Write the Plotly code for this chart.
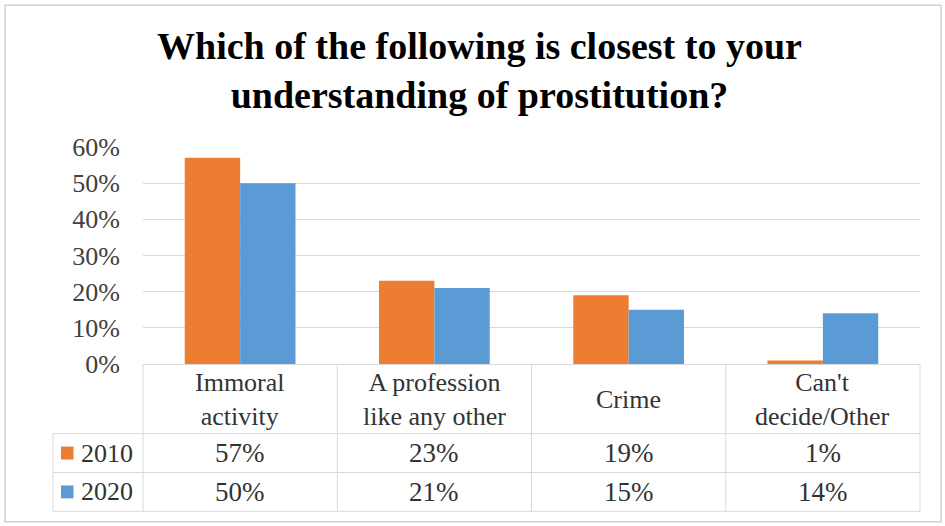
import plotly.graph_objects as go

# Survey answers, share of respondents
categories = ["Immoral activity", "A profession like any other", "Crime", "Can't decide/Other"]
category_labels = ["Immoral<br>activity", "A profession<br>like any other", "Crime", "Can't<br>decide/Other"]
years = ["2010", "2020"]
values_2010 = [0.57, 0.23, 0.19, 0.01]
values_2020 = [0.50, 0.21, 0.15, 0.14]
y_ticks = [0, 0.1, 0.2, 0.3, 0.4, 0.5, 0.6]

series = [values_2010, values_2020]
colors = ["#ED7D31", "#5B9BD5"]

W, H = 945, 526
L, R, T, B = 143, 920, 146.5, 364.5   # plot area in pixels
FONT = "Liberation Serif"
TEXT = "#404040"
TABLE_TEXT = "#333333"
GRID = "#d9d9d9"


def px(p):
    return (p - L) / (R - L)


def py(p):
    return (B - p) / (B - T)


fig = go.Figure()
for name, vals, col in zip(years, series, colors):
    fig.add_trace(go.Bar(x=categories, y=vals, name=name, marker=dict(color=col, line=dict(width=0))))

# data table under the plot
row_edges = [364.5, 434.5, 473.5, 512.5]
col_edges = [L + i * (R - L) / 4 for i in range(5)]
left_edge = 53

for y in row_edges[1:]:
    fig.add_shape(type="line", xref="paper", yref="paper", x0=px(left_edge), x1=px(R),
                  y0=py(y), y1=py(y), line=dict(color=GRID, width=1))
fig.add_shape(type="line", xref="paper", yref="paper", x0=px(left_edge), x1=px(left_edge),
              y0=py(row_edges[1]), y1=py(row_edges[3]), line=dict(color=GRID, width=1))
for x in col_edges:
    fig.add_shape(type="line", xref="paper", yref="paper", x0=px(x), x1=px(x),
                  y0=py(row_edges[0]), y1=py(row_edges[3]), line=dict(color=GRID, width=1))

# outer chart frame
fig.add_shape(type="rect", xref="paper", yref="paper", x0=px(5), x1=px(941),
              y0=py(4), y1=py(523), line=dict(color="#d0d0d0", width=1.5), layer="below")

for cat, lab in zip(categories, category_labels):
    fig.add_annotation(x=cat, xref="x", y=py(400), yref="paper", text=lab, showarrow=False,
                       font=dict(family=FONT, size=26, color=TABLE_TEXT), align="center",
                       xanchor="center", yanchor="middle")

row_centers = [(row_edges[1] + row_edges[2]) / 2, (row_edges[2] + row_edges[3]) / 2]
for name, vals, col, yc in zip(years, series, colors, row_centers):
    fig.add_shape(type="rect", xref="paper", yref="paper", x0=px(61), x1=px(73.5),
                  y0=py(yc + 6.5), y1=py(yc - 6.5), fillcolor=col, line=dict(width=0))
    fig.add_annotation(x=px(79), xref="paper", y=py(yc), yref="paper", text=name,
                       showarrow=False, xanchor="left", yanchor="middle",
                       font=dict(family=FONT, size=26, color=TABLE_TEXT))
    for cat, v in zip(categories, vals):
        fig.add_annotation(x=cat, xref="x", y=py(yc), yref="paper", text=f"{round(v * 100)}%",
                           showarrow=False, xanchor="center", yanchor="middle",
                           font=dict(family=FONT, size=27, color=TABLE_TEXT))

# title
fig.add_annotation(x=px(479), xref="paper", y=py(70), yref="paper",
                   text="<b>Which of the following is closest to your<br>understanding of prostitution?</b>",
                   showarrow=False, xanchor="center", yanchor="middle", align="center",
                   font=dict(family=FONT, size=38, color="#000000"))

fig.update_layout(
    width=W, height=H,
    margin=dict(l=L, r=W - R, t=T, b=H - B, pad=0),
    paper_bgcolor="white", plot_bgcolor="white",
    barmode="group", bargap=0.43, bargroupgap=0,
    showlegend=False,
)
fig.update_xaxes(showticklabels=False, showline=True, linecolor=GRID, linewidth=1,
                 showgrid=False, ticks="", range=[-0.5, 3.5])
fig.update_yaxes(range=[0, 0.6], tickvals=y_ticks, tickformat=".0%", showgrid=True,
                 gridcolor=GRID, gridwidth=1, zeroline=False, showline=False, ticks="",
                 ticklabelstandoff=22, tickfont=dict(family=FONT, size=26, color=TEXT))

fig.write_html("out.html")
